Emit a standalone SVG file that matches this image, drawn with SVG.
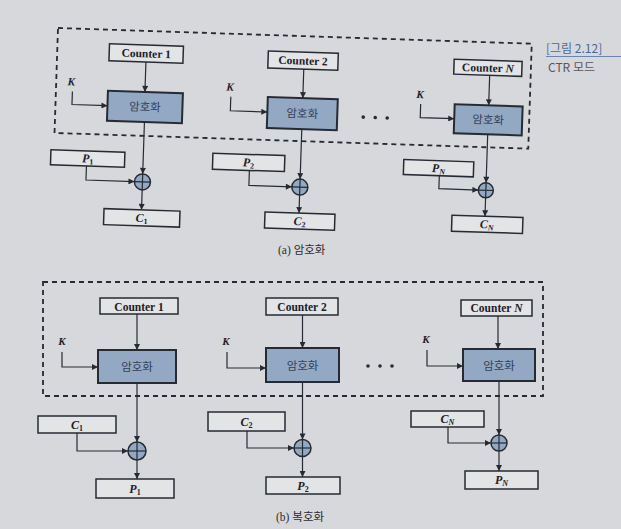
<svg xmlns="http://www.w3.org/2000/svg" width="621" height="529" viewBox="0 0 621 529">
<defs>
<marker id="ah" viewBox="0 0 10 10" refX="10" refY="5" markerWidth="7" markerHeight="6" orient="auto" markerUnits="userSpaceOnUse"><path d="M0,0 L10,5 L0,10 z" fill="#262a33"/></marker>
<style>
.bg{fill:#d7d8db}
.dash{fill:none;stroke:#262a33;stroke-width:1.8;stroke-dasharray:5 4}
.wb{fill:#e3e4e6;stroke:#262a33;stroke-width:1.5}
.eb{fill:#93a9c3;stroke:#262a33;stroke-width:2}
.ln{fill:none;stroke:#262a33;stroke-width:1.2;marker-end:url(#ah)}
.xor{fill:#93a9c3;stroke:#262a33;stroke-width:1.5}
.xl{stroke:#262a33;stroke-width:1.2}
.ct{font-family:"Liberation Serif",serif;font-weight:bold;font-size:11.5px;fill:#1e2028;text-anchor:middle}
.et{font-family:"Noto Sans CJK KR","Noto Sans",sans-serif;font-size:11.5px;fill:#34405a;text-anchor:middle}
.pt{font-family:"Liberation Serif",serif;font-weight:bold;font-style:italic;font-size:12px;fill:#1e2028;text-anchor:middle}
.sub{font-style:normal;font-size:8px}
.subi{font-style:italic;font-size:8px}
.kt{font-family:"Liberation Serif",serif;font-weight:bold;font-style:italic;font-size:11px;fill:#1e2028;text-anchor:middle}
.cap{font-family:"Liberation Serif","Noto Sans CJK KR",serif;font-size:11.5px;fill:#2a2c33}
.ko{font-family:"Noto Sans CJK KR",sans-serif}
.dot{fill:#262a33}
</style>
</defs>
<rect class="bg" x="0" y="0" width="621" height="529"/>

<g id="top" transform="rotate(1.9 58 28)">
<rect id="frame-a" class="dash" x="58" y="28" width="474" height="105"/>
<g id="a-counter1"><rect class="wb" x="110" y="42" width="74" height="17"/><text class="ct" x="147" y="54.5">Counter 1</text></g>
<g id="a-enc1"><rect class="eb" x="110" y="89" width="75" height="30"/><text class="et" x="147.5" y="108">암호화</text></g>
<g id="a-k1"><text class="kt" x="73" y="85">K</text></g>
<g id="a-xor1"><circle class="xor" cx="147.5" cy="179" r="8"/><line class="xl" x1="139.5" y1="179" x2="155.5" y2="179"/><line class="xl" x1="147.5" y1="171" x2="147.5" y2="187"/></g>
<g id="a-p1"><rect class="wb" x="55" y="150" width="74" height="15"/><text class="pt" x="92" y="161.5">P<tspan class="sub" dy="2">1</tspan></text></g>
<g id="a-c1"><rect class="wb" x="110" y="207" width="76" height="16"/><text class="pt" x="148" y="219">C<tspan class="sub" dy="2">1</tspan></text></g>

<g id="a-counter2"><rect class="wb" x="269" y="44" width="70" height="17"/><text class="ct" x="304" y="56.5">Counter 2</text></g>
<g id="a-enc2"><rect class="eb" x="270" y="90" width="70" height="31"/><text class="et" x="305" y="109.5">암호화</text></g>
<g id="a-k2"><text class="kt" x="232" y="85">K</text></g>
<g id="a-xor2"><circle class="xor" cx="305" cy="179" r="8"/><line class="xl" x1="297" y1="179" x2="313" y2="179"/><line class="xl" x1="305" y1="171" x2="305" y2="187"/></g>
<g id="a-p2"><rect class="wb" x="217" y="148" width="72" height="16"/><text class="pt" x="253" y="160">P<tspan class="sub" dy="2">2</tspan></text></g>
<g id="a-c2"><rect class="wb" x="271" y="205" width="70" height="16"/><text class="pt" x="306" y="217">C<tspan class="sub" dy="2">2</tspan></text></g>

<g id="a-counterN"><rect class="wb" x="455" y="46" width="68" height="15"/><text class="ct" x="489" y="57.5">Counter <tspan font-style="italic">N</tspan></text></g>
<g id="a-encN"><rect class="eb" x="457" y="91" width="68" height="29"/><text class="et" x="491" y="109.5">암호화</text></g>
<g id="a-kN"><text class="kt" x="422" y="86">K</text></g>
<g id="a-xorN"><circle class="xor" cx="491" cy="176" r="7.5"/><line class="xl" x1="483.5" y1="176" x2="498.5" y2="176"/><line class="xl" x1="491" y1="168.5" x2="491" y2="183.5"/></g>
<g id="a-pN"><rect class="wb" x="408" y="148" width="70" height="15"/><text class="pt" x="443" y="159.5">P<tspan class="subi" dy="2">N</tspan></text></g>
<g id="a-cN"><rect class="wb" x="458" y="202" width="71" height="16"/><text class="pt" x="493" y="214">C<tspan class="subi" dy="2">N</tspan></text></g>
<g id="a-dots"><circle class="dot" cx="366" cy="107" r="1.8"/><circle class="dot" cx="378" cy="107" r="1.8"/><circle class="dot" cx="390" cy="107" r="1.8"/></g>

<g id="a-connectors">
<path class="ln" d="M147,59 V89"/>
<path class="ln" d="M74.5,91 V104 H110"/>
<path class="ln" d="M147.5,119 V171"/>
<path class="ln" d="M91,165 V179 H139.5"/>
<path class="ln" d="M147.5,187 V207"/>
<path class="ln" d="M305,61 V90"/>
<path class="ln" d="M233,91 V105 H270"/>
<path class="ln" d="M305,121 V171"/>
<path class="ln" d="M254,164 V179 H297"/>
<path class="ln" d="M305,187 V205"/>
<path class="ln" d="M491,61 V91"/>
<path class="ln" d="M423,92 V105.5 H457"/>
<path class="ln" d="M491,120 V168.5"/>
<path class="ln" d="M444,163 V176 H483.5"/>
<path class="ln" d="M491,183.5 V202"/>
</g>
</g>

<g id="caption-a"><text class="cap" x="278" y="254">(a) <tspan class="ko">암호화</tspan></text></g>

<g id="bottom">
<rect id="frame-b" class="dash" x="43" y="282" width="500" height="114"/>
<g id="b-counter1"><rect class="wb" x="100" y="298" width="78" height="16"/><text class="ct" x="139" y="310.5" font-size="12">Counter 1</text></g>
<g id="b-enc1"><rect class="eb" x="98" y="350" width="78" height="33"/><text class="et" x="137" y="370.5" font-size="12">암호화</text></g>
<g id="b-k1"><text class="kt" x="62" y="345">K</text></g>
<g id="b-xor1"><circle class="xor" cx="137" cy="451" r="9"/><line class="xl" x1="128" y1="451" x2="146" y2="451"/><line class="xl" x1="137" y1="442" x2="137" y2="460"/></g>
<g id="b-c1"><rect class="wb" x="38" y="416" width="78" height="17"/><text class="pt" x="77" y="428.5">C<tspan class="sub" dy="2">1</tspan></text></g>
<g id="b-p1"><rect class="wb" x="96" y="479" width="78" height="19"/><text class="pt" x="135" y="492.5">P<tspan class="sub" dy="2">1</tspan></text></g>

<g id="b-counter2"><rect class="wb" x="266" y="298" width="72" height="17"/><text class="ct" x="302" y="311" font-size="12">Counter 2</text></g>
<g id="b-enc2"><rect class="eb" x="266" y="348" width="73" height="34"/><text class="et" x="302.5" y="369.5" font-size="12">암호화</text></g>
<g id="b-k2"><text class="kt" x="226" y="345">K</text></g>
<g id="b-xor2"><circle class="xor" cx="302.5" cy="448" r="8.5"/><line class="xl" x1="294" y1="448" x2="311" y2="448"/><line class="xl" x1="302.5" y1="439.5" x2="302.5" y2="456.5"/></g>
<g id="b-c2"><rect class="wb" x="208" y="412" width="77" height="19"/><text class="pt" x="246.5" y="425.5">C<tspan class="sub" dy="2">2</tspan></text></g>
<g id="b-p2"><rect class="wb" x="266" y="477" width="74" height="17"/><text class="pt" x="303" y="489.5">P<tspan class="sub" dy="2">2</tspan></text></g>

<g id="b-counterN"><rect class="wb" x="461" y="300" width="71" height="16"/><text class="ct" x="496.5" y="312" font-size="12">Counter <tspan font-style="italic">N</tspan></text></g>
<g id="b-encN"><rect class="eb" x="463" y="349" width="72" height="32"/><text class="et" x="499" y="369.5">암호화</text></g>
<g id="b-kN"><text class="kt" x="426" y="343">K</text></g>
<g id="b-xorN"><circle class="xor" cx="499" cy="443" r="8"/><line class="xl" x1="491" y1="443" x2="507" y2="443"/><line class="xl" x1="499" y1="435" x2="499" y2="451"/></g>
<g id="b-cN"><rect class="wb" x="411" y="411" width="73" height="16"/><text class="pt" x="447.5" y="423">C<tspan class="subi" dy="2">N</tspan></text></g>
<g id="b-pN"><rect class="wb" x="465" y="471" width="73" height="18"/><text class="pt" x="501.5" y="484">P<tspan class="subi" dy="2">N</tspan></text></g>
<g id="b-dots"><circle class="dot" cx="368" cy="366" r="1.8"/><circle class="dot" cx="380" cy="366" r="1.8"/><circle class="dot" cx="392" cy="366" r="1.8"/></g>

<g id="b-connectors">
<path class="ln" d="M137,314 V350"/>
<path class="ln" d="M62,352 V367 H98"/>
<path class="ln" d="M137,383 V442"/>
<path class="ln" d="M77,433 V451 H128"/>
<path class="ln" d="M137,460 V479"/>
<path class="ln" d="M302.5,315 V348"/>
<path class="ln" d="M227,352 V368 H266"/>
<path class="ln" d="M302.5,382 V439.5"/>
<path class="ln" d="M247,431 V448 H294"/>
<path class="ln" d="M302.5,456.5 V477"/>
<path class="ln" d="M498,316 V349"/>
<path class="ln" d="M427,350 V366 H463"/>
<path class="ln" d="M499,381 V435"/>
<path class="ln" d="M448,427 V443 H491"/>
<path class="ln" d="M499,451 V471"/>
</g>
</g>

<g id="caption-b"><text class="cap" x="276" y="521">(b) <tspan class="ko">복호화</tspan></text></g>

<g id="side">
<text x="546" y="53" font-family="Noto Sans CJK KR,Noto Sans,sans-serif" font-size="12" fill="#4a6896">[그림 2.12]</text>
<line x1="546" y1="56.5" x2="621" y2="56.5" stroke="#6a86b0" stroke-width="1"/>
<text x="548" y="72" font-family="Noto Sans CJK KR,Noto Sans,sans-serif" font-size="12" fill="#55575e">CTR 모드</text>
</g>
</svg>
